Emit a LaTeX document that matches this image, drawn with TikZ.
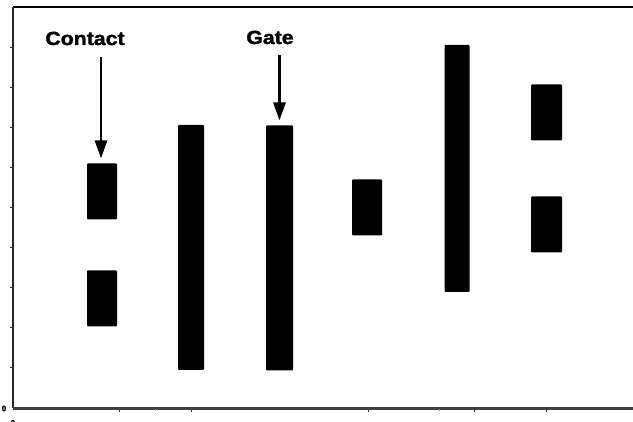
\documentclass[tikz,border=0pt]{standalone}
\usepackage{fontspec}
\setmainfont{Liberation Sans}
\newfontfamily\lblfont[FakeBold=1.6]{Liberation Sans Bold}
\usetikzlibrary{arrows.meta}
\tikzset{
  bar/.style={fill=black, draw=none, inner sep=0pt, outer sep=0pt, rounded corners=1pt},
  lbl/.style={font=\fontsize{19}{20}\selectfont\lblfont, xscale=1.12, anchor=base, inner sep=0pt},
  arr/.style={line width=2.8pt, -{Triangle[width=12pt,length=18pt]}, shorten >=5pt},
  axis/.style={line width=2pt, black!85},
  tick/.style={line width=0.8pt, black!80},
  zero/.style={font=\fontsize{8}{9}\selectfont\lblfont, inner sep=0pt}
}
\begin{document}
\begin{tikzpicture}[x=1pt,y=-1pt]
\useasboundingbox (0,0) rectangle (633,422);
% frame / axes
\coordinate (tl) at (13,7);
\coordinate (tr) at (633,7);
\coordinate (bl) at (13,408.5);
\coordinate (br) at (633,408.5);
\draw[line width=2.4pt] (tl) -- (tr);
\draw[axis] (tl) -- (bl);
\draw[line width=2.6pt, black!75] (bl) -- (br);
% left ticks
\foreach \yy in {47,87,127,167,207,247,287,327,367}
  \draw[tick] (13,\yy) -- (10,\yy);
% bottom ticks
\foreach \xx in {119,191,368,474,546}
  \draw[tick] (\xx,409) -- (\xx,412.5);
\foreach \xx in {155,439}
  \draw[tick, black!40] (\xx,409) -- (\xx,411.5);
\node[zero] (z1) at (4,408.5) {0};
\node[zero] (z2) at (13,423) {0};
% bars
\node[bar, minimum width=30pt, minimum height=56pt] (c1) at (102,191.5) {};
\node[bar, minimum width=30pt, minimum height=56pt] (c2) at (102,298.5) {};
\node[bar, minimum width=26pt, minimum height=245pt] (b1) at (191,247.5) {};
\node[bar, minimum width=27pt, minimum height=245pt] (g1) at (279.5,248) {};
\node[bar, minimum width=30pt, minimum height=56pt] (s1) at (367,207.5) {};
\node[bar, minimum width=25pt, minimum height=247pt] (b2) at (457,168.5) {};
\node[bar, minimum width=31pt, minimum height=56pt] (r1) at (546.5,112.5) {};
\node[bar, minimum width=31pt, minimum height=56pt] (r2) at (546.5,224.5) {};
% labels
\node[lbl] (contact) at (85,45) {Contact};
\node[lbl] (gate) at (270,44) {Gate};
\coordinate (ca) at (101,57);
\coordinate (ga) at (279.5,55);
\draw[arr] (ca) -- (ca |- c1.north);
\draw[arr] (ga) -- (ga |- g1.north);
\end{tikzpicture}
\end{document}
